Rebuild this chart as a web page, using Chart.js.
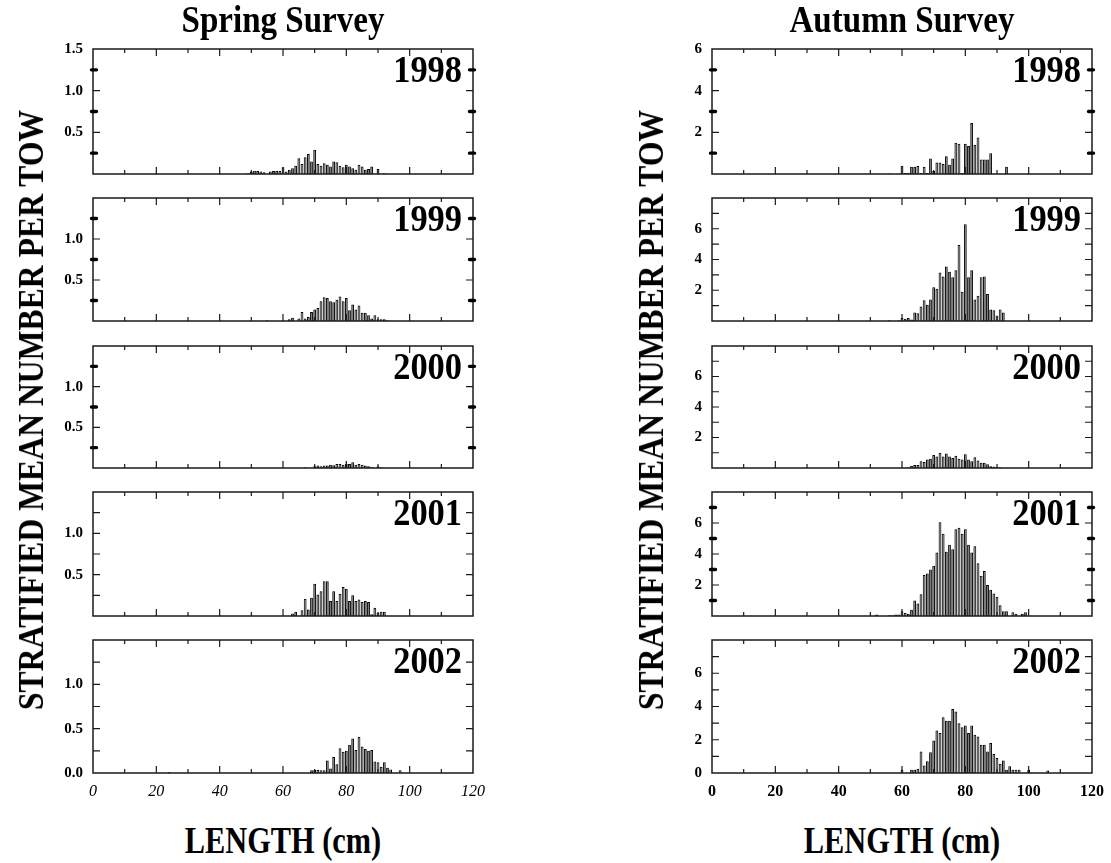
<!DOCTYPE html>
<html><head><meta charset="utf-8">
<script src="https://cdn.jsdelivr.net/npm/chart.js@4"></script>
<style>
html,body{margin:0;padding:0;background:#fff;}
#wrap{position:relative;width:1111px;height:863px;overflow:hidden;background:#fff;}
#wrap canvas{position:absolute;}
.t{position:absolute;font-family:"Liberation Serif","Times New Roman",serif;font-weight:bold;color:#000;white-space:nowrap;line-height:1;}
</style></head><body><div id="wrap"></div>
<script>
// ---------------- data ----------------
const years = ['1998', '1999', '2000', '2001', '2002'];
const lengthTicks = [0, 20, 40, 60, 80, 100, 120];
const lengthMinor = [10, 20, 30, 40, 50, 60, 70, 80, 90, 100, 110];

const springYTicks = [[0.5, 1.0, 1.5], [0.5, 1.0], [0.5, 1.0], [0.5, 1.0], [0.0, 0.5, 1.0]];
const springMinor = [0.25, 0.5, 0.75, 1.0, 1.25];
const springDots = [0.25, 0.75, 1.25];
const springDotPanels = [true, true, true, false, false];
const springMax = [1.5, 1.5, 1.5, 1.5, 1.5];

const autumnYTicks = [[2, 4, 6], [2, 4, 6], [2, 4, 6], [2, 4, 6], [0, 2, 4, 6]];
const autumnMinor = [1, 2, 3, 4, 5, 6, 7];
const autumnDots = [1, 3, 5, 7];
const autumnDotPanels = [true, false, false, true, false];
const autumnMax = [6, 8, 8, 8, 8];

// values per 1-cm length bin, starting at the given length (cm)
const spring1998Start = 49;
const spring1998 = [0.01,0.03,0.04,0.035,0.03,0.02,0,0.03,0.035,0.04,0.035,0.08,0.03,0.05,0.07,0.1,0.19,0.12,0.2,0.24,0.15,0.29,0.12,0.1,0.13,0.11,0.09,0.15,0.14,0.1,0.08,0.11,0.09,0.07,0.05,0.11,0.09,0.05,0.06,0.09,0,0.06,0,0.01];
const spring1999Start = 55;
const spring1999 = [0.01,0,0,0,0,0,0,0.02,0.04,0,0.03,0.11,0.03,0.05,0.11,0.14,0.16,0.24,0.29,0.28,0.24,0.23,0.26,0.3,0.24,0.28,0.13,0.2,0.14,0.19,0.1,0.1,0.07,0.03,0.07,0.02,0.02,0.02,0.01];
const spring2000Start = 67;
const spring2000 = [0.01,0,0,0.02,0.03,0.02,0.03,0.03,0.04,0.035,0.05,0.05,0.04,0.05,0.05,0.07,0.04,0.05,0.04,0.03,0.02,0.01,0,0.02,0.01];
const spring2001Start = 63;
const spring2001 = [0.03,0.05,0,0.07,0.21,0.08,0.22,0.39,0.26,0.3,0.42,0.42,0.18,0.3,0.18,0.27,0.35,0.33,0.18,0.25,0.18,0.2,0.17,0.18,0.17,0.02,0.1,0.04,0.05,0.05];
const spring2002Start = 69;
const spring2002 = [0.03,0.035,0.035,0.03,0.03,0.14,0.05,0.18,0.1,0.28,0.24,0.25,0.32,0.39,0.26,0.41,0.3,0.27,0.25,0.26,0.13,0.12,0.07,0.12,0.06,0.04,0,0,0.03];
const spring2002Extra = [[24, 0.01]];

const autumn1998Start = 56;
const autumn1998 = [0.02,0,0,0,0.4,0.05,0.05,0.35,0.35,0.38,0.05,0.35,0.05,0.75,0.15,0.55,0.55,0.48,0.85,0.45,0.75,1.5,1.45,0.05,1.45,1.35,2.45,1.4,1.75,0.7,0.7,0.7,1.0,0,0,0,0,0.35];
const autumn1999Start = 56;
const autumn1999 = [0.05,0,0,0.05,0.2,0.15,0.2,0.1,0.55,0.5,0.95,1.35,1.05,1.4,2.2,2.1,3.15,2.9,3.55,3.2,2.85,3.3,4.95,1.9,6.3,2.85,3.3,1.4,1.65,2.85,2.9,1.75,0.75,0.7,0.35,0.75,0.55];
const autumn2000Start = 62;
const autumn2000 = [0.05,0.15,0.2,0.2,0.45,0.4,0.55,0.6,0.85,0.75,1.0,0.75,0.95,0.75,0.65,0.8,0.6,0.55,0.9,0.55,0.45,0.7,0.5,0.35,0.35,0.25,0.12,0.1,0.08,0.05];
const autumn2001Start = 52;
const autumn2001 = [0.1,0,0,0,0.05,0.05,0.1,0.1,0.3,0.2,0.15,0.4,1.0,0.8,1.4,2.65,2.75,3.0,3.25,4.1,6.05,5.3,4.15,4.6,4.3,5.6,5.7,5.3,5.6,4.6,4.1,4.5,3.4,2.6,2.9,2.0,1.7,1.45,1.25,0.7,0.3,0.3,0,0.25,0.15,0,0.15,0.25];
const autumn2002Start = 60;
const autumn2002 = [0.2,0,0,0.2,0.2,0.25,1.3,0.45,0.7,1.25,1.95,2.55,2.4,3.35,3.15,3.15,3.85,3.7,3.0,2.75,2.85,2.4,2.85,2.3,2.2,1.7,1.7,1.3,1.8,1.15,0.9,0.55,0.75,0.2,0.4,0.2,0.2,0.2,0,0,0.2,0,0,0,0,0,0.15];

const springSeries = [
  [spring1998Start, spring1998, []],
  [spring1999Start, spring1999, []],
  [spring2000Start, spring2000, []],
  [spring2001Start, spring2001, []],
  [spring2002Start, spring2002, spring2002Extra]
];
const autumnSeries = [
  [autumn1998Start, autumn1998, []],
  [autumn1999Start, autumn1999, []],
  [autumn2000Start, autumn2000, []],
  [autumn2001Start, autumn2001, []],
  [autumn2002Start, autumn2002, []]
];

// ---------------- layout ----------------
const FONT = '"Liberation Serif", "Times New Roman", serif';
const rowTop = [40, 189, 337, 483, 631];
const rowBottom = [183, 330, 477, 625, 773];
const colLeft = [93, 712];
const PLOT_W = 380;
const YAXIS_W = 55, PAD_R = 16, PAD_T = 10;

const wrap = document.getElementById('wrap');

function toPoints(start, vals, extra) {
  const pts = [];
  vals.forEach((v, i) => { if (v) pts.push({ x: start + i, y: v }); });
  extra.forEach(p => pts.push({ x: p[0], y: p[1] }));
  return pts;
}

function makeFrame(minor, dots) {
  return {
    id: 'frame',
    afterDatasetsDraw(chart) {
      const ctx = chart.ctx, a = chart.chartArea, x = chart.scales.x, y = chart.scales.y;
      ctx.save();
      ctx.strokeStyle = '#1a1a1a';
      ctx.lineWidth = 1.5;
      ctx.strokeRect(a.left, a.top, a.right - a.left, a.bottom - a.top);
      ctx.lineWidth = 1.2;
      ctx.beginPath();
      lengthMinor.forEach(v => {
        const px = x.getPixelForValue(v);
        const len = v % 20 === 0 ? 7 : 4;
        ctx.moveTo(px, a.top); ctx.lineTo(px, a.top + len);
        ctx.moveTo(px, a.bottom); ctx.lineTo(px, a.bottom - len);
      });
      minor.forEach(v => {
        if (dots.includes(v)) return;
        const py = y.getPixelForValue(v);
        ctx.moveTo(a.left, py); ctx.lineTo(a.left + 7, py);
        ctx.moveTo(a.right, py); ctx.lineTo(a.right - 7, py);
      });
      ctx.stroke();
      ctx.strokeStyle = '#000';
      ctx.lineWidth = 3.4; ctx.lineCap = 'round';
      ctx.beginPath();
      dots.forEach(v => {
        const py = y.getPixelForValue(v);
        ctx.moveTo(a.left - 1.5, py); ctx.lineTo(a.left + 3.5, py);
        ctx.moveTo(a.right + 1.5, py); ctx.lineTo(a.right - 3.5, py);
      });
      ctx.stroke();
      ctx.restore();
    }
  };
}

function addPanel(col, row) {
  const isBottom = row === 4;
  const spring = col === 0;
  const [start, vals, extra] = spring ? springSeries[row] : autumnSeries[row];
  const yTicks = spring ? springYTicks[row] : autumnYTicks[row];
  const yMax = spring ? springMax[row] : autumnMax[row];
  const minor = (spring ? springMinor : autumnMinor).filter(v => v < yMax);
  const dotsOn = spring ? springDotPanels[row] : autumnDotPanels[row];
  const dots = dotsOn ? (spring ? springDots : autumnDots).filter(v => v < yMax) : [];
  const bottomPad = isBottom ? 30 : 10;

  const cv = document.createElement('canvas');
  const w = YAXIS_W + PLOT_W + PAD_R;
  const h = PAD_T + (rowBottom[row] - rowTop[row]) + bottomPad;
  cv.width = w; cv.height = h;
  cv.style.width = w + 'px'; cv.style.height = h + 'px';
  cv.style.left = (colLeft[col] - YAXIS_W) + 'px';
  cv.style.top = (rowTop[row] - PAD_T) + 'px';
  wrap.appendChild(cv);

  new Chart(cv, {
    type: 'bar',
    data: {
      datasets: [{
        data: toPoints(start, vals, extra),
        backgroundColor: '#666666',
        borderColor: '#000',
        borderWidth: 1,
        borderSkipped: 'start',
        barPercentage: 0.88,
        categoryPercentage: 1
      }]
    },
    options: {
      animation: false, responsive: false, devicePixelRatio: 1,
      layout: { padding: { left: 0, right: PAD_R, top: PAD_T, bottom: 0 } },
      plugins: { legend: { display: false }, tooltip: { enabled: false } },
      scales: {
        x: {
          type: 'linear', min: 0, max: 120, offset: false,
          grid: { display: false, drawTicks: false, offset: false },
          border: { display: false },
          ticks: {
            display: isBottom, autoSkip: false, maxRotation: 0, padding: 9, color: '#000',
            font: { family: FONT, size: 16, weight: spring ? 'normal' : 'bold', style: spring ? 'italic' : 'normal' }
          },
          afterBuildTicks: s => { s.ticks = lengthTicks.map(v => ({ value: v })); },
          afterFit: s => { s.height = bottomPad; s.paddingLeft = 0; s.paddingRight = 0; }
        },
        y: {
          type: 'linear', min: 0, max: yMax,
          grid: { display: false, drawTicks: false },
          border: { display: false },
          ticks: {
            padding: 10, color: '#000',
            font: { family: FONT, size: 15, weight: 'bold' },
            callback: v => spring ? Number(v).toFixed(1) : String(v)
          },
          afterBuildTicks: s => { s.ticks = yTicks.map(v => ({ value: v })); },
          afterFit: s => { s.width = YAXIS_W; }
        }
      }
    },
    plugins: [makeFrame(minor, dots)]
  });

  // year label
  const lab = document.createElement('div');
  lab.className = 't';
  lab.textContent = years[row];
  lab.style.fontSize = '37px';
  lab.style.right = (1111 - (colLeft[col] + PLOT_W - 11)) + 'px';
  lab.style.top = (rowTop[row] + 41.5 - 0.8375 * 37) + 'px';
  lab.style.transformOrigin = 'right center';
  lab.style.transform = 'scaleX(0.93)';
  wrap.appendChild(lab);
}

for (let c = 0; c < 2; c++) for (let r = 0; r < 5; r++) addPanel(c, r);

function addText(txt, cx, baseline, size, sx) {
  const d = document.createElement('div');
  d.className = 't';
  d.textContent = txt;
  d.style.fontSize = size + 'px';
  d.style.left = cx + 'px';
  d.style.top = (baseline - 0.8375 * size) + 'px';
  d.style.transform = 'translateX(-50%) scaleX(' + sx + ')';
  wrap.appendChild(d);
}
function addVText(txt, cx, cy, size, sx) {
  const d = document.createElement('div');
  d.className = 't';
  d.textContent = txt;
  d.style.fontSize = size + 'px';
  d.style.left = cx + 'px';
  d.style.top = cy + 'px';
  d.style.transform = 'translate(-50%,-50%) rotate(-90deg) scaleX(' + sx + ')';
  wrap.appendChild(d);
}
addText('Spring Survey', 283, 32, 38, 0.87);
addText('Autumn Survey', 902, 32, 38, 0.87);
addText('LENGTH (cm)', 283, 853, 37, 0.82);
addText('LENGTH (cm)', 902, 853, 37, 0.82);
addVText('STRATIFIED MEAN NUMBER PER TOW', 31, 410, 36, 0.88);
addVText('STRATIFIED MEAN NUMBER PER TOW', 651, 410, 36, 0.88);
</script></body></html>
